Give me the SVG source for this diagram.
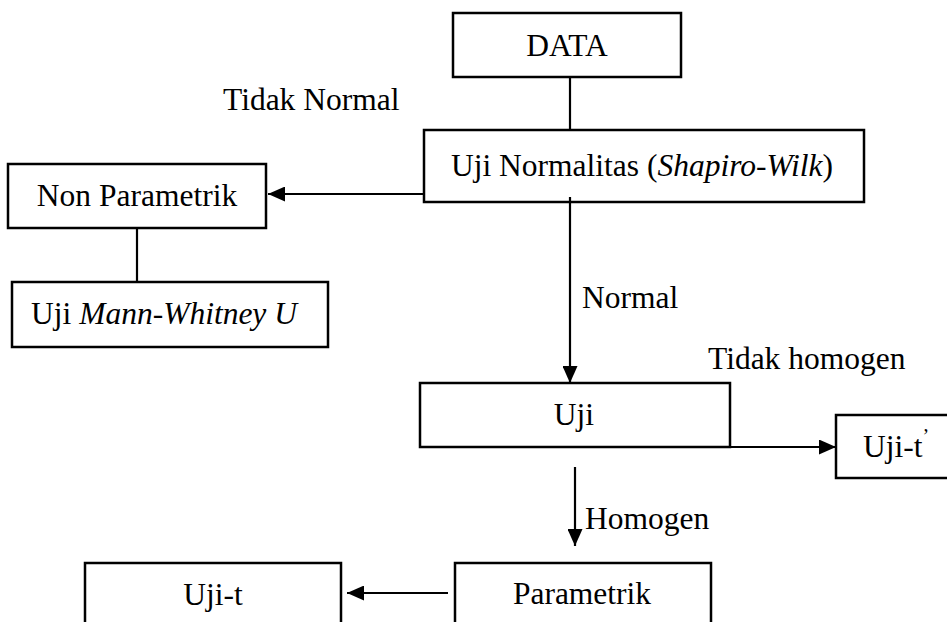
<svg xmlns="http://www.w3.org/2000/svg" width="947" height="622" viewBox="0 0 947 622">
<defs>
<style>
.box{fill:#fff;stroke:#000;stroke-width:2.5}
.ln{fill:none;stroke:#000;stroke-width:2.2}
text{font-family:"Liberation Serif","Times New Roman",serif;font-size:31.5px;fill:#000}
.c{text-anchor:middle}
.i{font-style:italic}
</style>
<marker id="ah" markerUnits="userSpaceOnUse" markerWidth="17" markerHeight="15" refX="17" refY="7.5" orient="auto">
<path d="M0,0 L17,7.5 L0,15 z" fill="#000"/>
</marker>
</defs>
<rect width="947" height="622" fill="#fff"/>
<g id="connectors">
<line class="ln" x1="570" y1="77" x2="570" y2="130"/>
<line class="ln" x1="423" y1="194" x2="268" y2="194" marker-end="url(#ah)"/>
<line class="ln" x1="137" y1="228" x2="137" y2="282"/>
<line class="ln" x1="570" y1="197" x2="570" y2="383" marker-end="url(#ah)"/>
<line class="ln" x1="730" y1="447" x2="836" y2="447" marker-end="url(#ah)"/>
<line class="ln" x1="575" y1="467" x2="575" y2="546" marker-end="url(#ah)"/>
<line class="ln" x1="448" y1="593" x2="347" y2="593" marker-end="url(#ah)"/>
</g>
<g id="labels">
<text x="223" y="110">Tidak Normal</text>
<text x="582" y="308">Normal</text>
<text x="708" y="369">Tidak homogen</text>
<text x="585" y="529">Homogen</text>
</g>
<g id="data">
<rect class="box" x="453" y="13" width="228" height="64"/>
<text class="c" x="567" y="56">DATA</text>
</g>
<g id="uji-normalitas">
<rect class="box" x="424" y="130" width="440" height="72"/>
<line class="ln" x1="570" y1="197" x2="570" y2="202"/>
<text class="c" x="642" y="176">Uji Normalitas (<tspan class="i">Shapiro-Wilk</tspan>)</text>
</g>
<g id="non-parametrik">
<rect class="box" x="8" y="164" width="258" height="64"/>
<text class="c" x="137" y="206">Non Parametrik</text>
</g>
<g id="mann-whitney">
<rect class="box" x="12" y="282" width="316" height="65"/>
<text class="c" x="164" y="324">Uji <tspan class="i">Mann-Whitney U</tspan></text>
</g>
<g id="uji">
<rect class="box" x="420" y="383" width="310" height="64"/>
<text class="c" x="574" y="425">Uji</text>
</g>
<g id="uji-t-aksen">
<rect class="box" x="836" y="415" width="120" height="63"/>
<text x="863" y="457">Uji-t<tspan dy="-14" font-size="20">’</tspan></text>
</g>
<g id="uji-t">
<rect class="box" x="85" y="563" width="256" height="80"/>
<text class="c" x="213" y="605">Uji-t</text>
</g>
<g id="parametrik">
<rect class="box" x="455" y="563" width="256" height="80"/>
<text class="c" x="582" y="604">Parametrik</text>
</g>
</svg>
